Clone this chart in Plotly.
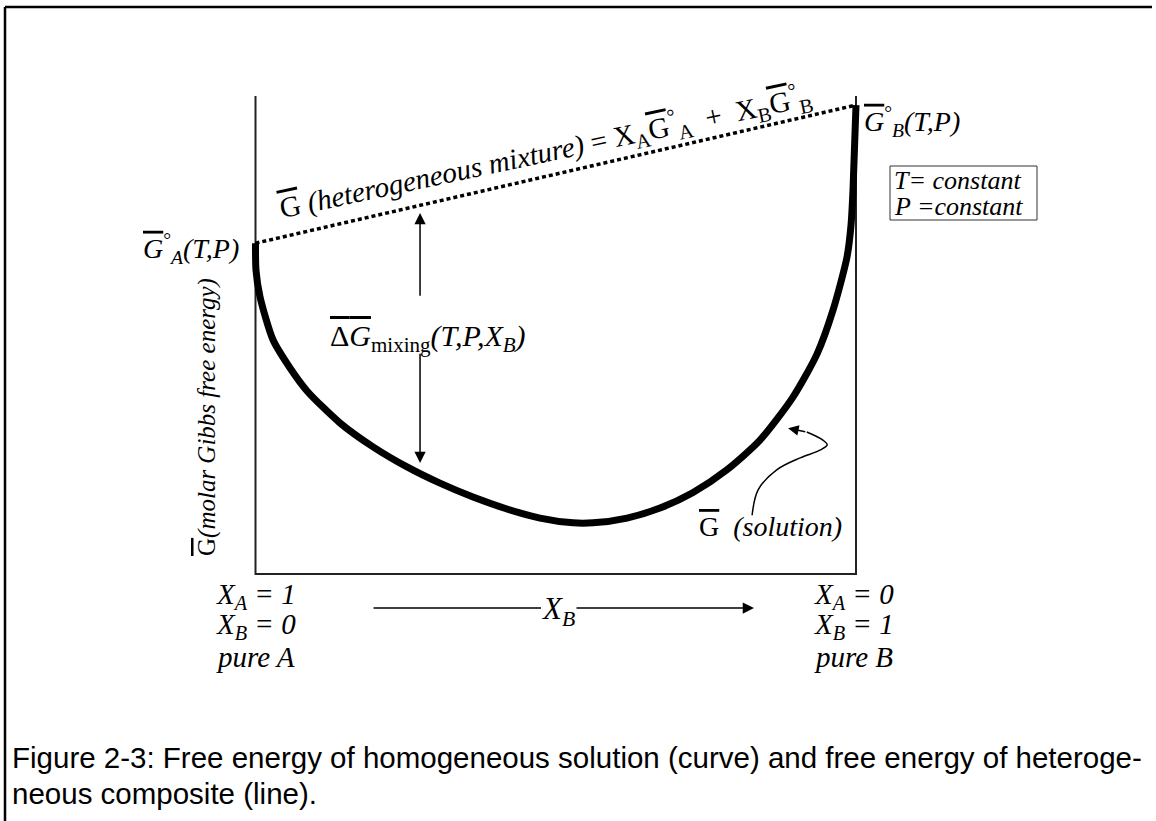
import plotly.graph_objects as go

# ---------------- data (arbitrary G units, axis spans 0..1) ----------------
x_b = [0.0, 0.0008, 0.0075, 0.0291, 0.0575, 0.0858, 0.1407, 0.1957, 0.2523, 0.3072, 0.3622,
       0.4188, 0.4738, 0.5287, 0.562, 0.6187, 0.6736, 0.728, 0.7851, 0.8401, 0.895, 0.935,
       0.9617, 0.985, 0.9917, 0.995, 1.0]
g_solution = [0.692, 0.636, 0.580, 0.490, 0.431, 0.383, 0.316, 0.266, 0.224, 0.190, 0.161,
              0.136, 0.117, 0.107, 0.107, 0.117, 0.138, 0.170, 0.218, 0.280, 0.370, 0.460,
              0.552, 0.663, 0.730, 0.803, 0.981]

x_mixture = [0.0, 1.0]
g_mixture = [0.692, 0.981]

# Delta G mixing arrows at this composition
x_arrow = 0.274
g_up = [0.579, 0.755]
g_down = [0.464, 0.232]

# curly pointer from the "G (solution)" label
x_pointer = [0.827, 0.837, 0.868, 0.907, 0.940, 0.952, 0.945, 0.918]
g_pointer = [0.123, 0.176, 0.218, 0.243, 0.259, 0.270, 0.280, 0.297]
pointer_tip = (0.887, 0.305)

# ---------------- geometry helpers (pixel -> data for label placement) ----------------
W, H = 1156, 821
X0PX, XS = 255.5, 600.5
Y0PX, YS = 574.0, 478.0


def px(x):
    return (x - X0PX) / XS


def py(y):
    return (Y0PX - y) / YS


SERIF = "Liberation Serif"
OL = '<span style="text-decoration:overline">G</span>'

fig = go.Figure()

# frame of the diagram
fig.add_trace(go.Scatter(x=[0, 0, 1, 1], y=[1, 0, 0, 1], mode="lines",
                         line=dict(color="#222", width=2), hoverinfo="skip"))
# heterogeneous mixture line
fig.add_trace(go.Scatter(x=x_mixture, y=g_mixture, mode="lines",
                         line=dict(color="black", width=3.5, dash="4px,3px"), hoverinfo="skip"))
# solution curve
fig.add_trace(go.Scatter(x=x_b, y=g_solution, mode="lines",
                         line=dict(color="black", width=7, shape="spline", smoothing=0.7),
                         hoverinfo="skip"))
# curly pointer
fig.add_trace(go.Scatter(x=x_pointer, y=g_pointer, mode="lines",
                         line=dict(color="black", width=1.5, shape="spline", smoothing=1),
                         hoverinfo="skip"))

ann = []


def text(x, y, t, size=25, xanchor="center", yanchor="middle", angle=0, **kw):
    d = dict(x=x, y=y, xref="x", yref="y", text=t, showarrow=False,
             xanchor=xanchor, yanchor=yanchor, textangle=angle,
             font=dict(family=SERIF, size=size, color="black"))
    d.update(kw)
    ann.append(d)


def arrow(x, y, ax, ay, head=2, size=1.5, width=1.5):
    ann.append(dict(x=x, y=y, ax=ax, ay=ay, xref="x", yref="y", axref="x", ayref="y",
                    text="", showarrow=True, arrowhead=head, arrowsize=size,
                    arrowwidth=width, arrowcolor="black", standoff=0, startstandoff=0))


# end-point labels
text(px(241), py(248), f"<i>{OL}</i><sup>°</sup><sub><i>A</i></sub><i>(T,P)</i>", size=28,
     xanchor="right")
text(px(862), py(121), f"<i>{OL}</i><sup>°</sup><sub><i>B</i></sub><i>(T,P)</i>", size=28,
     xanchor="left")

# T, P constant box
text(px(892), py(180), "<i>T= constant</i>", size=26, xanchor="left")
text(px(892), py(206), "<i>P =constant</i>", size=26, xanchor="left")

# rotated formula along dotted line
text(px(545), py(152),
     f"{OL} <i>(heterogeneous mixture)</i> = X<sub>A</sub>{OL}<sup>°</sup><sub>A</sub>"
     f"  +  X<sub>B</sub>{OL}<sup>°</sup><sub>B</sub>",
     size=29, angle=-12)

# Delta G mixing
arrow(x_arrow, g_up[1], x_arrow, g_up[0])
arrow(x_arrow, g_down[1], x_arrow, g_down[0])
text(px(428), py(338),
     '<span style="text-decoration:overline">Δ<i>G</i></span><sub>mixing</sub><i>(T,P,X<sub>B</sub>)</i>',
     size=30)

# y axis title
text(px(207), py(417), f"{OL}<i>(molar Gibbs free energy)</i>", size=25, angle=-90)

# bottom composition labels
for xl, lines in ((214, ["<i>X<sub>A</sub> = 1</i>", "<i>X<sub>B</sub> = 0</i>", "<i>pure A</i>"]),
                  (812, ["<i>X<sub>A</sub> = 0</i>", "<i>X<sub>B</sub> = 1</i>", "<i>pure B</i>"])):
    for yc, t in zip((596, 626, 657), lines):
        text(px(xl), py(yc), t, size=29, xanchor="left")

# X_B arrow
text(px(558), py(611), "<i>X<sub>B</sub></i>", size=31)
ann.append(dict(x=px(541), y=py(608), ax=px(372), ay=py(608), xref="x", yref="y",
                axref="x", ayref="y", text="", showarrow=True, arrowhead=0,
                arrowwidth=1.5, arrowcolor="black", standoff=0))
arrow(px(754), py(608), px(575), py(608), head=2, size=1.5)

# G (solution)
text(px(697), py(526), f"{OL}  <i>(solution)</i>", size=28, xanchor="left")
arrow(pointer_tip[0], pointer_tip[1], x_pointer[-1], g_pointer[-1], head=2, size=1.4)

# caption
cap = dict(family="Liberation Sans", size=29.5, color="black")
ann.append(dict(x=px(10), y=py(757), xref="x", yref="y", showarrow=False, xanchor="left",
                yanchor="middle", font=cap,
                text="Figure 2-3: Free energy of homogeneous solution (curve) and free energy of heteroge-"))
ann.append(dict(x=px(10), y=py(793), xref="x", yref="y", showarrow=False, xanchor="left",
                yanchor="middle", font=cap, text="neous composite (line)."))

# page frame and the T,P box
shapes = [
    dict(type="line", xref="x", yref="y", x0=px(5), y0=py(7), x1=px(1152), y1=py(7),
         line=dict(color="black", width=2.5)),
    dict(type="line", xref="x", yref="y", x0=px(5), y0=py(7), x1=px(5), y1=py(821),
         line=dict(color="black", width=2.5)),
    dict(type="rect", xref="x", yref="y", x0=px(890), y0=py(166), x1=px(1037), y1=py(220),
         line=dict(color="#333", width=1)),
]

fig.update_layout(
    width=W, height=H, margin=dict(l=0, r=0, t=0, b=0),
    paper_bgcolor="white", plot_bgcolor="white", showlegend=False,
    xaxis=dict(range=[px(0), px(W)], visible=False, fixedrange=True),
    yaxis=dict(range=[py(H), py(0)], visible=False, fixedrange=True),
    annotations=ann, shapes=shapes,
)

fig.write_html("out.html", config={"displayModeBar": False},
               post_script="document.body.style.margin='0';")
